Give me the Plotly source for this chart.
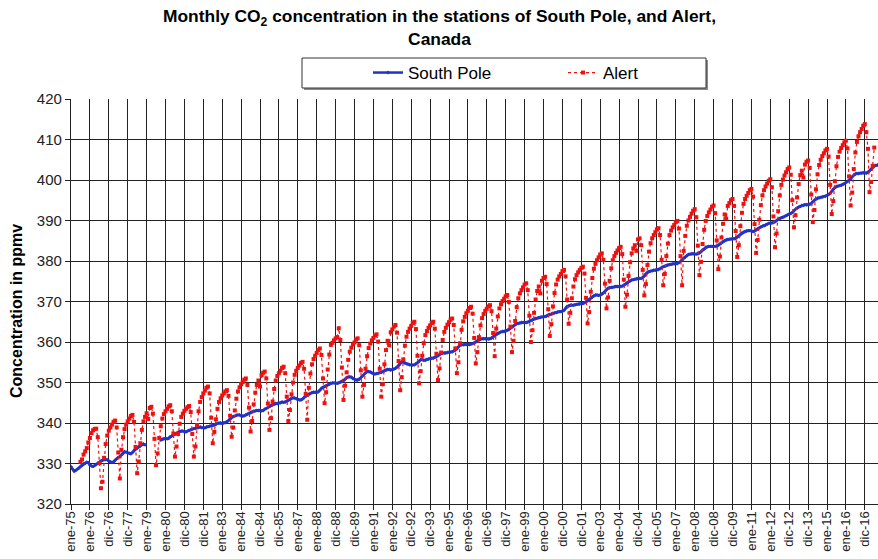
import plotly.graph_objects as go

# ---------------------------------------------------------------------------
# Data: monthly CO2 (ppmv), month index 0 = January 1975
# ---------------------------------------------------------------------------
tick_labels = [
    "ene-75", "ene-76", "dic-76", "dic-77", "ene-79", "ene-80", "dic-80", "dic-81",
    "ene-83", "ene-84", "dic-84", "dic-85", "ene-87", "ene-88", "dic-88", "dic-89",
    "ene-91", "ene-92", "dic-92", "dic-93", "ene-95", "ene-96", "dic-96", "dic-97",
    "ene-99", "ene-00", "dic-00", "dic-01", "ene-03", "ene-04", "dic-04", "dic-05",
    "ene-07", "ene-08", "dic-08", "dic-09", "ene-11", "ene-12", "dic-12", "dic-13",
    "ene-15", "ene-16", "dic-16",
]
months_per_label = 12

# South Pole, one row per year (1975 ... 2017); None = no measurement
south_pole_ppmv = [
    329.2, 328.6, 328.1, 328.3, 328.6, 328.9, 329.3, 329.6, 329.9, 330.1, 330.3, 330.2,
    329.6, 329.4, 329.3, 329.5, 329.8, 330.0, 330.3, 330.6, 330.8, 330.9, 331.0, 330.9,
    330.6, 330.4, 330.3, 330.4, 330.8, 331.2, 331.5, 331.7, 332.1, 332.5, 332.9, 332.8,
    332.6, 332.5, 332.4, 332.7, 333.2, 333.5, 333.8, 334.1, 334.4, 334.7, 334.8, 334.6,
    None, None, None, None, None, None, None, None, None, 335.8, 336.0, 336.1,
    336.2, 336.1, 336.2, 336.6, 336.8, 337.0, 337.3, 337.5, 337.7, 337.9, 338.0, 338.0,
    337.9, 337.8, 338.0, 338.2, 338.3, 338.5, 338.6, 338.7, 338.8, 338.9, 339.0, 338.9,
    338.8, 338.8, 339.0, 339.1, 339.2, 339.3, 339.4, 339.5, 339.7, 339.9, 340.0, 340.0,
    339.9, 340.0, 340.1, 340.3, 340.6, 341.0, 341.4, 341.6, 341.7, 341.9, 342.0, 342.0,
    341.8, 341.7, 341.8, 342.0, 342.2, 342.4, 342.6, 342.8, 342.9, 343.0, 343.1, 343.1,
    343.1, 343.0, 343.1, 343.4, 343.6, 343.8, 344.1, 344.4, 344.6, 344.7, 344.8, 344.8,
    344.9, 345.0, 345.2, 345.1, 345.2, 345.4, 345.6, 345.8, 346.1, 346.2, 346.2, 346.0,
    345.8, 345.7, 345.7, 345.9, 346.3, 346.6, 346.9, 347.1, 347.3, 347.5, 347.6, 347.6,
    347.6, 347.7, 348.1, 348.6, 348.8, 349.0, 349.2, 349.4, 349.6, 349.8, 349.9, 349.9,
    349.8, 349.8, 349.9, 350.1, 350.2, 350.4, 350.8, 351.2, 351.4, 351.4, 351.3, 351.0,
    350.8, 350.6, 350.6, 350.8, 351.2, 351.6, 352.0, 352.4, 352.7, 352.7, 352.6, 352.4,
    352.2, 352.1, 352.2, 352.3, 352.4, 352.5, 352.7, 352.9, 353.1, 353.2, 353.2, 353.1,
    353.2, 353.3, 353.5, 353.8, 354.2, 354.6, 355.1, 355.0, 354.8, 354.6, 354.5, 354.4,
    354.3, 354.3, 354.4, 354.6, 354.9, 355.2, 355.6, 355.6, 355.5, 355.5, 355.7, 355.8,
    355.9, 356.0, 356.0, 356.2, 356.4, 356.6, 356.9, 357.2, 357.3, 357.3, 357.3, 357.4,
    357.5, 357.5, 357.6, 357.8, 358.0, 358.3, 358.8, 359.2, 359.3, 359.3, 359.4, 359.4,
    359.4, 359.4, 359.5, 359.6, 359.8, 360.0, 360.3, 360.5, 360.7, 360.8, 360.8, 360.8,
    360.8, 360.7, 360.8, 361.0, 361.3, 361.6, 361.9, 362.1, 362.3, 362.5, 362.6, 362.6,
    362.7, 362.9, 363.1, 363.4, 363.7, 364.0, 364.3, 364.5, 364.6, 364.7, 364.8, 364.8,
    364.8, 364.8, 364.9, 365.1, 365.3, 365.5, 365.7, 365.8, 365.9, 366.0, 366.1, 366.2,
    366.2, 366.3, 366.4, 366.7, 366.8, 366.9, 367.1, 367.2, 367.3, 367.4, 367.5, 367.5,
    367.6, 367.8, 368.3, 368.8, 368.9, 369.1, 369.1, 369.1, 369.2, 369.3, 369.4, 369.4,
    369.5, 369.5, 369.7, 369.9, 370.2, 370.5, 370.8, 371.1, 371.4, 371.6, 371.6, 371.5,
    371.6, 371.8, 372.1, 372.5, 372.9, 373.3, 373.4, 373.5, 373.5, 373.6, 373.7, 373.7,
    373.7, 373.7, 373.8, 374.0, 374.3, 374.6, 374.9, 375.1, 375.3, 375.4, 375.5, 375.6,
    375.6, 375.7, 375.7, 375.9, 376.3, 376.8, 377.2, 377.4, 377.5, 377.6, 377.7, 377.7,
    377.8, 377.9, 378.1, 378.4, 378.6, 378.7, 378.9, 379.0, 379.1, 379.2, 379.3, 379.3,
    379.3, 379.4, 379.6, 379.9, 380.3, 380.7, 381.0, 381.3, 381.6, 381.7, 381.8, 381.8,
    381.7, 381.7, 381.8, 382.0, 382.3, 382.7, 383.0, 383.4, 383.5, 383.6, 383.6, 383.6,
    383.6, 383.6, 383.7, 383.9, 384.2, 384.5, 384.8, 385.0, 385.2, 385.3, 385.4, 385.4,
    385.5, 385.5, 385.6, 385.9, 386.2, 386.6, 386.9, 387.1, 387.3, 387.4, 387.5, 387.5,
    387.4, 387.3, 387.4, 387.7, 388.0, 388.2, 388.4, 388.6, 388.7, 388.9, 389.1, 389.3,
    389.4, 389.4, 389.5, 389.7, 390.0, 390.3, 390.5, 390.7, 390.8, 391.0, 391.2, 391.4,
    391.6, 391.7, 392.0, 392.4, 392.8, 393.1, 393.3, 393.5, 393.7, 393.8, 393.9, 393.9,
    393.9, 394.0, 394.2, 394.6, 395.0, 395.3, 395.5, 395.6, 395.7, 395.8, 395.9, 396.0,
    396.2, 396.4, 396.7, 397.2, 397.7, 398.2, 398.4, 398.5, 398.6, 398.7, 398.9, 399.1,
    399.4, 399.6, 399.9, 400.3, 400.8, 401.2, 401.5, 401.6, 401.6, 401.7, 401.7, 401.8,
    401.8, 401.7, 401.9, 402.3, 402.7, 403.1, 403.4, 403.6, 403.7, 403.8, 403.9, 404.0,
]

# Alert, Canada: record begins at month index 6; one row per seasonal cycle
alert_first_month = 6
alert_ppmv = [
    330.4, 331.0, 332.2,
    333.0, 333.8, 335.2, 336.3, 337.5, 338.2, 338.5, 338.6, 336.5, 330.1, 323.9, 325.5,
    331.4, 334.8, 336.9, 338.1, 338.9, 339.6, 340.3, 340.6, 338.9, 332.7, 326.3,
    333.4, 336.5, 338.5, 339.6, 340.4, 341.1, 341.7, 342.0, 340.3, 334.1, 327.6, 330.5,
    335.0, 338.3, 340.4, 341.5, 342.4, 341.0, 343.7, 344.0, 342.3, 336.1, 329.6, 332.5,
    336.3, 339.2, 341.1, 342.2, 342.9, 343.5, 344.1, 344.4, 342.9, 337.4, 331.7, 334.2,
    337.3, 339.8, 341.5, 342.3, 343.0, 343.5, 343.9, 344.2, 342.7, 337.3, 331.7, 334.2,
    339.5, 342.9, 345.2, 346.4, 347.3, 348.0, 348.7, 349.0, 347.3, 341.3, 335.0, 337.8,
    340.9, 343.5, 345.2, 346.1, 346.8, 347.3, 347.8, 348.1, 346.7, 341.8, 336.6, 338.9,
    343.1, 346.0, 347.8, 348.8, 349.6, 350.1, 350.7, 351.0, 349.4, 343.8, 337.9, 340.5,
    344.6, 347.5, 349.4, 350.5, 349.0, 351.8, 352.4, 352.7, 351.0, 344.8, 338.3, 341.2,
    345.3, 348.4, 350.5, 351.6, 352.3, 352.9, 353.6, 353.9, 352.3, 346.5, 340.5, 343.2,
    347.1, 350.0, 351.9, 352.9, 353.6, 354.2, 354.8, 355.1, 353.4, 347.2, 340.8,
    348.7, 352.2, 354.5, 355.8, 356.6, 357.3, 358.0, 358.4, 356.8, 351.0, 344.9, 347.6,
    353.2, 356.9, 359.3, 359.8, 360.4, 360.9, 361.2, 363.4, 360.5, 353.7, 345.7, 349.2,
    352.5, 355.6, 357.6, 358.6, 359.4, 359.9, 360.6, 360.9, 359.2, 353.0, 346.5, 349.4,
    353.4, 356.5, 358.5, 359.6, 360.4, 361.0, 361.6, 361.9, 360.1, 353.4, 346.5, 349.6,
    354.5, 358.0, 360.3, 359.2, 362.4, 363.1, 363.8, 364.2, 362.3, 355.3, 348.1, 351.3,
    355.7, 359.1, 361.3, 362.5, 363.3, 364.0, 364.7, 365.0, 363.2, 356.6, 349.8, 352.8,
    356.6, 359.7, 361.7, 362.7, 363.5, 364.1, 364.7, 365.0, 363.3, 357.1, 350.6, 353.5,
    357.4, 360.5, 362.5, 363.5, 364.3, 364.9, 365.5, 365.8, 364.2, 358.4, 352.3, 355.0,
    359.7, 363.0, 365.1, 366.2, 367.1, 367.7, 368.4, 368.7, 367.0, 361.0, 354.7, 357.5,
    361.2, 364.1, 365.9, 366.9, 367.7, 368.2, 368.8, 369.1, 367.6, 362.2, 356.5,
    363.3, 366.3, 368.3, 369.3, 370.1, 370.7, 371.3, 371.6, 369.9, 363.8, 357.5, 360.3,
    365.2, 368.6, 370.8, 372.0, 372.8, 373.5, 374.2, 374.5, 372.8, 366.5, 360.0, 362.9,
    367.2, 370.5, 372.6, 373.7, 372.0, 375.1, 375.8, 376.1, 374.3, 368.1, 361.5, 364.4,
    368.8, 372.1, 374.2, 375.4, 376.2, 376.8, 377.5, 377.8, 376.2, 370.5, 364.5, 367.2,
    370.8, 373.7, 375.5, 376.5, 377.2, 377.8, 378.3, 378.6, 376.9, 370.9, 364.6, 367.4,
    372.4, 375.8, 378.1, 379.3, 380.2, 380.9, 381.6, 381.9, 380.3, 374.4, 368.3, 371.0,
    375.1, 378.2, 380.2, 381.2, 382.0, 382.6, 383.2, 383.5, 381.7, 375.4, 368.7, 371.7,
    376.3, 379.7, 381.9, 383.1, 383.9, 382.5, 385.3, 385.6, 383.9, 377.8, 371.5, 374.3,
    379.0, 382.3, 384.4, 385.6, 386.4, 387.1, 387.8, 388.1, 386.4, 380.3, 374.0, 376.8,
    381.2, 384.3, 386.4, 387.5, 388.3, 388.9, 389.6, 389.9, 388.0, 381.2, 374.0,
    382.5, 386.2, 388.7, 390.0, 390.9, 391.7, 392.4, 392.8, 390.8, 383.8, 376.5, 379.8,
    384.2, 387.7, 389.9, 391.1, 392.0, 392.7, 393.4, 393.7, 391.8, 385.1, 378.0, 381.1,
    385.8, 389.2, 391.5, 390.5, 393.6, 394.3, 395.0, 395.3, 393.6, 387.4, 381.0, 383.9,
    388.6, 391.9, 394.1, 395.3, 396.1, 396.8, 397.5, 397.8, 395.9, 389.1, 382.0, 385.2,
    390.2, 393.8, 396.2, 397.5, 398.4, 399.1, 399.8, 400.2, 398.2, 391.0, 383.4, 386.8,
    392.3, 396.2, 398.8, 400.1, 401.1, 401.9, 402.7, 403.1, 401.3, 395.0, 388.3, 391.3,
    395.7, 399.0, 401.2, 402.3, 400.6, 403.8, 404.5, 404.8, 403.0, 396.4, 389.6, 392.6,
    397.7, 401.4, 403.7, 405.0, 405.9, 406.6, 407.3, 407.7, 405.8, 398.8, 391.6, 394.8,
    399.7, 403.4, 405.7, 407.0, 407.9, 408.6, 409.3, 409.7, 407.8, 400.9, 393.7, 396.9,
    402.7, 406.8, 409.4, 410.8, 411.8, 412.6, 413.4, 413.8, 411.8, 407.7, 397.0, 399.5,
    403.5, 408.0,
]

# ---------------------------------------------------------------------------
south_pole_months = list(range(len(south_pole_ppmv)))
alert_months = list(range(alert_first_month, alert_first_month + len(alert_ppmv)))
label_positions = [i * months_per_label for i in range(len(tick_labels))]

FONT = "Liberation Sans, Arial, Helvetica, sans-serif"
W, H = 878, 559
ML, MT, MB, MR = 71, 99, 55, 0
PW, PH = W - ML - MR, H - MT - MB


def px_x(px):
    return (px - ML) / PW


def px_y(py):
    return (H - MB - py) / PH


fig = go.Figure()

fig.add_trace(go.Scatter(
    x=south_pole_months, y=south_pole_ppmv, name="South Pole",
    mode="lines+markers",
    line=dict(color="#2233c8", width=2.5),
    marker=dict(color="#2233c8", size=3, symbol="diamond"),
    connectgaps=False,
))
fig.add_trace(go.Scatter(
    x=alert_months, y=alert_ppmv, name="Alert",
    mode="lines+markers",
    line=dict(color="#f01010", width=1.2, dash="dot"),
    marker=dict(color="#f01010", size=4, symbol="square"),
))

# legend frame with a soft drop shadow
fig.add_shape(type="rect", xref="paper", yref="paper",
              x0=px_x(304), x1=px_x(708), y0=px_y(90), y1=px_y(60),
              line=dict(width=0), fillcolor="#8a8a8a", layer="below")
fig.add_shape(type="rect", xref="paper", yref="paper",
              x0=px_x(302), x1=px_x(706), y0=px_y(88), y1=px_y(58),
              line=dict(color="#333333", width=1), fillcolor="white", layer="below")

# chart title (two lines)
fig.add_annotation(
    text="<b>Monthly CO<sub>2</sub> concentration in the stations of South Pole, and Alert,<br>Canada</b>",
    xref="paper", yref="paper", x=px_x(W / 2), y=px_y(4),
    xanchor="center", yanchor="top", showarrow=False, align="center",
    font=dict(family=FONT, size=17.4, color="black"),
)

# y-axis title
fig.add_annotation(
    text="<b>Concentration in ppmv</b>", textangle=-90,
    xref="paper", yref="paper", x=px_x(16), y=px_y(311),
    xanchor="center", yanchor="middle", showarrow=False,
    font=dict(family=FONT, size=16, color="black"),
)

fig.update_layout(
    width=W, height=H,
    margin=dict(l=ML, r=MR, t=MT, b=MB, autoexpand=False),
    paper_bgcolor="white", plot_bgcolor="white",
    font=dict(family=FONT, color="#222222"),
    showlegend=True,
    legend=dict(
        orientation="h", xref="paper", yref="paper",
        x=px_x(368), y=px_y(73), xanchor="left", yanchor="middle",
        bgcolor="rgba(0,0,0,0)", borderwidth=0,
        font=dict(family=FONT, size=17, color="black"),
        entrywidth=150, entrywidthmode="pixels",
        itemclick=False,
    ),
    xaxis=dict(
        range=[0, PW / 1.575],
        tickmode="array", tickvals=label_positions, ticktext=tick_labels,
        tickangle=-90, tickfont=dict(family=FONT, size=13, color="#222222"),
        ticks="outside", ticklen=5, tickcolor="#222222", tickwidth=1.2,
        ticklabelstandoff=-4,
        showgrid=True, gridcolor="#222222", gridwidth=1.2,
        showline=True, linecolor="#222222", linewidth=1.2,
        zeroline=False, automargin=False,
    ),
    yaxis=dict(
        range=[320, 420], dtick=10, tick0=320,
        tickfont=dict(family=FONT, size=15, color="#222222"),
        ticks="outside", ticklen=5, tickcolor="#222222", tickwidth=1.2,
        showgrid=True, gridcolor="#222222", gridwidth=1.2,
        showline=True, linecolor="#222222", linewidth=1.2,
        zeroline=False, automargin=False,
    ),
)

fig.write_html("out.html")
